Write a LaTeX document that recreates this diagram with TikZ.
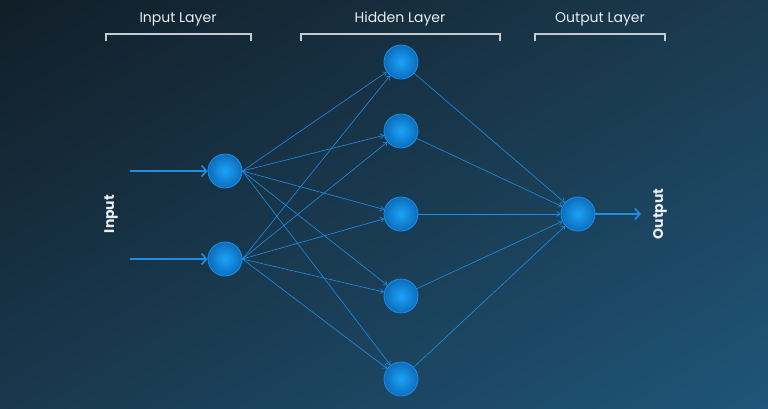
\documentclass[tikz,border=0pt]{standalone}
\usepackage{fontspec}
\setmainfont{Poppins}
\usetikzlibrary{arrows.meta,shadings}
\definecolor{bgUL}{HTML}{111E28}
\definecolor{bgUR}{HTML}{1B3B50}
\definecolor{bgLL}{HTML}{19384D}
\definecolor{bgLR}{HTML}{1F5579}
\definecolor{edgeblue}{HTML}{1E8EE6}
\definecolor{nodein}{HTML}{1BA3F7}
\definecolor{nodeout}{HTML}{0C6DBD}
\definecolor{nodeline}{HTML}{1E90E6}
\definecolor{brk}{HTML}{C3CAD0}
\definecolor{txt}{HTML}{E9EEF2}
\tikzset{
  neuron/.style={circle, minimum size=34pt, inner sep=0pt, draw=nodeline, line width=0.8pt, inner color=nodein, outer color=nodeout},
  link/.style={draw=edgeblue, line width=0.6pt, -{Straight Barb[length=3.5pt,width=5pt]}},
  ioarrow/.style={draw=edgeblue, line width=1.8pt, -{Straight Barb[length=5pt,width=11pt,line width=1.6pt]}},
  bracketline/.style={draw=brk, line width=1.1pt},
  layerlabel/.style={text=txt, font=\fontsize{14}{16}\selectfont},
  sidelabel/.style={text=txt, font=\fontsize{14}{16}\selectfont\bfseries, rotate=90}
}
\begin{document}
\begin{tikzpicture}[x=1pt,y=-1pt]
\useasboundingbox (0,0) rectangle (768,408);
\shade[upper left=bgUL, upper right=bgUR, lower left=bgLL, lower right=bgLR] (0,0) rectangle (768,408);

% labels
\node[layerlabel] (lin) at (178,19) {Input Layer};
\node[layerlabel] (lhid) at (400,19) {Hidden Layer};
\node[layerlabel] (lout) at (600,19) {Output Layer};
\draw[bracketline] (106,41) -- (106,34) -- (251,34) -- (251,41);
\draw[bracketline] (301,41) -- (301,34) -- (500,34) -- (500,41);
\draw[bracketline] (535,41) -- (535,34) -- (665,34) -- (665,41);

\node[sidelabel] (tin) at (111,214) {Input};
\node[sidelabel] (tout) at (660,214) {Output};

% neurons
\node[neuron] (i1) at (225,171) {};
\node[neuron] (i2) at (225,259) {};
\node[neuron] (h1) at (401,62) {};
\node[neuron] (h2) at (401,131) {};
\node[neuron] (h3) at (401,214) {};
\node[neuron] (h4) at (401,296) {};
\node[neuron] (h5) at (401,379) {};
\node[neuron] (o) at (578,214) {};

% input arrows
\coordinate (a1) at (130,171);
\coordinate (a2) at (130,259);
\coordinate (b) at (641,214);
\draw[ioarrow] (a1) -- (i1.west);
\draw[ioarrow] (a2) -- (i2.west);
\draw[ioarrow] (o.east) -- (b);

% input to hidden
\foreach \i in {i1,i2}{
  \foreach \h in {h1,h2,h3,h4,h5}{
    \draw[link] (\i.east) -- (\h);
  }
}
% hidden to output
\foreach \h in {h1,h2,h3,h4,h5}{
  \draw[link] (\h) -- (o);
}
\end{tikzpicture}
\end{document}
